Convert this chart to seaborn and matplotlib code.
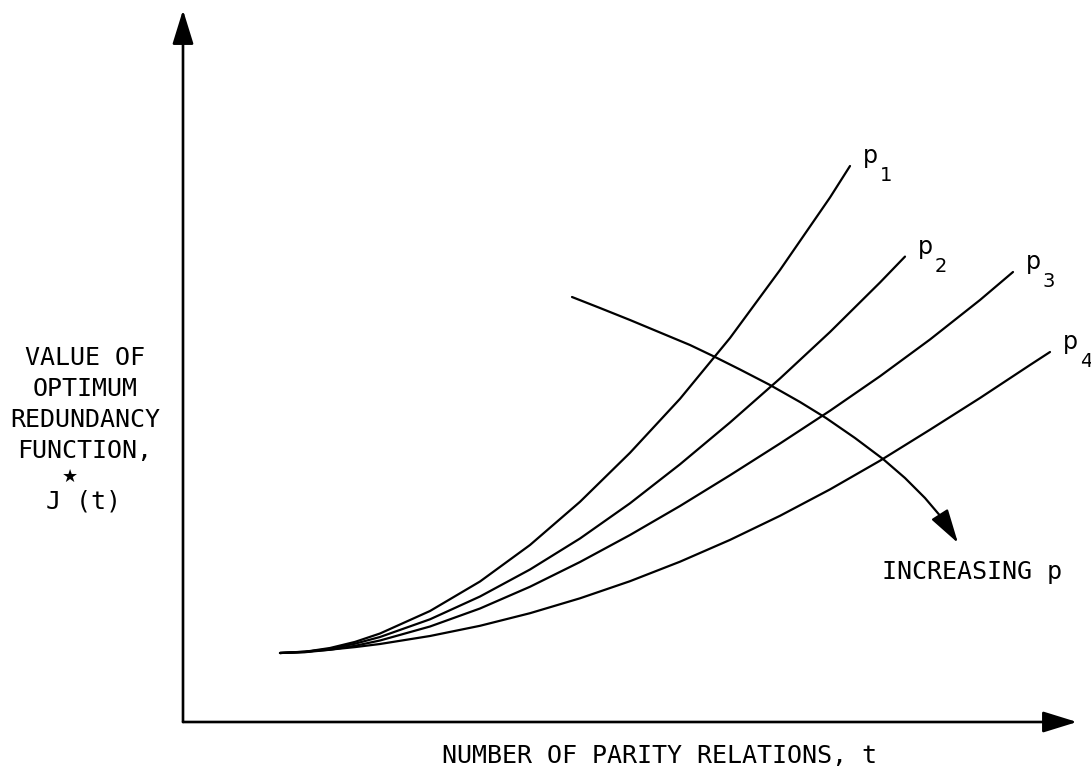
import numpy as np
import pandas as pd
import matplotlib
matplotlib.use("Agg")
import matplotlib.pyplot as plt
import seaborn as sns

# Value of the optimum redundancy function J*(t) for four values of p
t_p1 = [0.97, 1.22, 1.47, 1.72, 1.97, 2.47, 2.97, 3.47, 3.97, 4.47, 4.97, 5.47, 5.97, 6.47, 6.67]
J_p1 = [0.69, 0.7025, 0.74, 0.801, 0.885, 1.11, 1.405, 1.77, 2.202, 2.692, 3.232, 3.84, 4.52,
        5.245, 5.56]

t_p2 = [0.97, 1.22, 1.47, 1.72, 1.97, 2.47, 2.97, 3.47, 3.97, 4.47, 4.97, 5.47, 5.97, 6.47, 6.97, 7.22]
J_p2 = [0.69, 0.7006, 0.732, 0.783, 0.85, 1.027, 1.255, 1.525, 1.835, 2.187, 2.577, 2.995, 3.435,
        3.90, 4.395, 4.654]

t_p3 = [0.97, 1.22, 1.47, 1.72, 1.97, 2.47, 2.97, 3.47, 3.97, 4.47, 4.97, 5.47, 5.97, 6.47, 6.97,
        7.47, 7.97, 8.30]
J_p3 = [0.69, 0.698, 0.7225, 0.762, 0.815, 0.955, 1.135, 1.3525, 1.60, 1.87, 2.16, 2.4675, 2.785,
        3.1125, 3.4575, 3.825, 4.22, 4.50]

t_p4 = [0.97, 1.22, 1.47, 1.72, 1.97, 2.47, 2.97, 3.47, 3.97, 4.47, 4.97, 5.47, 5.97, 6.47, 6.97,
        7.47, 7.97, 8.47, 8.67]
J_p4 = [0.69, 0.704, 0.7235, 0.749, 0.78, 0.86, 0.962, 1.088, 1.237, 1.408, 1.603, 1.821, 2.062,
        2.326, 2.613, 2.923, 3.24, 3.57, 3.70]

curve_names = ["p1", "p2", "p3", "p4"]
curve_subscripts = ["1", "2", "3", "4"]

# Direction of increasing p, sweeping across the curves
trend_t = [3.89, 4.17, 4.47, 4.77, 5.07, 5.30, 5.57, 5.87, 6.17, 6.43, 6.72, 7.00, 7.22, 7.42, 7.59, 7.75]
trend_J = [4.25, 4.14, 4.02, 3.895, 3.77, 3.66, 3.525, 3.37, 3.20, 3.04, 2.84, 2.63, 2.44, 2.24, 2.04, 1.79]

ylabel_lines = ["VALUE OF", "OPTIMUM", "REDUNDANCY", "FUNCTION,"]
xlabel_text = "NUMBER OF PARITY RELATIONS, t"
trend_text = "INCREASING p"

# ---------------------------------------------------------------------------
sns.set_theme(style="white")
plt.rcParams["font.family"] = ["DejaVu Sans Mono", "DejaVu Sans"]
plt.rcParams["text.color"] = "black"

frames = []
for name, t, J in zip(curve_names, [t_p1, t_p2, t_p3, t_p4], [J_p1, J_p2, J_p3, J_p4]):
    frames.append(pd.DataFrame({"t": t, "J": J, "curve": name}))
df = pd.concat(frames, ignore_index=True)

fig = plt.figure(figsize=(10.91, 7.75), dpi=100)
ax = fig.add_axes([0, 0, 1, 1])
ax.set_xlim(-1.83, 9.08)
ax.set_ylim(-0.53, 7.22)
ax.axis("off")

sns.lineplot(data=df, x="t", y="J", hue="curve", palette=["black"] * 4,
             estimator=None, sort=False, linewidth=1.6, legend=False, ax=ax)
for line in ax.get_lines():
    line.set_solid_joinstyle("round")
    line.set_solid_capstyle("round")

# axes drawn as arrows from the origin
axis_arrow = dict(arrowstyle="-|>,head_length=21,head_width=6.5", mutation_scale=1,
                  lw=1.9, color="black", shrinkA=0, shrinkB=0)
ax.annotate("", xy=(0, 7.12), xytext=(0, 0), arrowprops=axis_arrow)
ax.annotate("", xy=(8.94, 0), xytext=(0, 0), arrowprops=axis_arrow)

# curve labels p with subscript at each curve end
for sub, t, J in zip(curve_subscripts, [t_p1, t_p2, t_p3, t_p4], [J_p1, J_p2, J_p3, J_p4]):
    ax.annotate("p", xy=(t[-1], J[-1]), xytext=(13, 3), textcoords="offset pixels",
                ha="left", va="baseline", fontsize=17, family="DejaVu Sans")
    ax.annotate(sub, xy=(t[-1], J[-1]), xytext=(30, -15), textcoords="offset pixels",
                ha="left", va="baseline", fontsize=14, family="DejaVu Sans")

# trend arrow
ax.plot(trend_t[:-1], trend_J[:-1], color="black", lw=1.6, solid_joinstyle="round")
ax.annotate("", xy=(trend_t[-1], trend_J[-1]), xytext=(trend_t[-2], trend_J[-2]),
            arrowprops=dict(arrowstyle="-|>,head_length=21,head_width=6", mutation_scale=1,
                            lw=1.6, color="black", shrinkA=0, shrinkB=0))
ax.text(6.99, 1.43, trend_text, ha="left", va="baseline", fontsize=18)

# y-axis description
ylab_x = -0.98
for i, line in enumerate(ylabel_lines):
    ax.text(ylab_x, 3.57 - 0.31 * i, line, ha="center", va="baseline", fontsize=18)
ax.text(-1.00, 2.14, "J (t)", ha="center", va="baseline", fontsize=18)
ax.text(-1.13, 2.45, "\u2605", ha="center", va="center", fontsize=13, family="DejaVu Sans")

# x-axis description
ax.text(4.76, -0.41, xlabel_text, ha="center", va="baseline", fontsize=18)

fig.savefig("out.png", dpi=100)
